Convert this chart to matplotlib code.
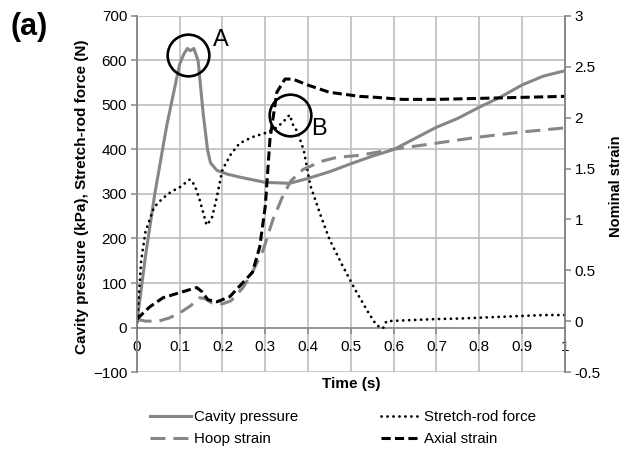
"""
Gráfica (a): presión de cavidad, fuerza de la varilla y deformaciones nominales
"""
import matplotlib
matplotlib.use('Agg')  # Backend sin GUI
import matplotlib.pyplot as plt

plt.rcParams['font.family'] = ['Liberation Sans', 'DejaVu Sans']

# Presión de cavidad (kPa) - eje izquierdo
t_presion = [0, 0.02, 0.042, 0.07, 0.10, 0.11, 0.118, 0.125, 0.133, 0.143, 0.155, 0.165, 0.172,
             0.187, 0.21, 0.24, 0.27, 0.30, 0.33, 0.357, 0.38, 0.40, 0.45, 0.50, 0.55, 0.60,
             0.65, 0.70, 0.75, 0.80, 0.85, 0.90, 0.95, 1.0]
presion = [10, 160, 301, 455, 592, 615, 627, 622, 627, 600, 480, 400, 370,
           353, 345, 338, 332, 326, 325, 324, 330, 335, 350, 368, 385, 400,
           425, 450, 470, 495, 518, 545, 565, 577]

# Fuerza de la varilla (N) - eje izquierdo
t_fuerza = [0, 0.01, 0.02, 0.04, 0.06, 0.08, 0.10, 0.124, 0.135, 0.147, 0.163, 0.175, 0.185,
            0.20, 0.22, 0.24, 0.27, 0.30, 0.32, 0.34, 0.357, 0.365, 0.375, 0.39, 0.405, 0.43,
            0.45, 0.48, 0.51, 0.54, 0.56, 0.575, 0.583, 0.60, 0.65, 0.70, 0.75, 0.80, 0.85,
            0.90, 0.95, 1.0]
fuerza = [0, 150, 215, 270, 290, 305, 315, 333, 320, 286, 230, 245, 285,
          355, 390, 414, 428, 437, 445, 460, 478, 455, 440, 398, 320, 250,
          198, 140, 85, 35, 5, -2, 14, 15, 17, 19, 20, 22, 24,
          26, 28, 28]

# Deformación circunferencial - eje derecho
t_aro = [0, 0.02, 0.05, 0.075, 0.10, 0.125, 0.147, 0.16, 0.175, 0.20, 0.22, 0.248, 0.27,
         0.295, 0.318, 0.341, 0.36, 0.388, 0.43, 0.467, 0.52, 0.60, 0.70, 0.80, 0.90, 1.0]
aro = [0.02, 0.0, 0.0, 0.03, 0.08, 0.15, 0.23, 0.22, 0.18, 0.17, 0.20, 0.33, 0.48,
       0.70, 1.00, 1.23, 1.38, 1.49, 1.57, 1.61, 1.63, 1.69, 1.75, 1.81, 1.86, 1.90]

# Deformación axial - eje derecho
t_axial = [0, 0.03, 0.061, 0.10, 0.14, 0.152, 0.166, 0.187, 0.217, 0.248, 0.27, 0.287,
           0.30, 0.311, 0.327, 0.346, 0.364, 0.40, 0.45, 0.52, 0.56, 0.62, 0.70, 0.80,
           0.90, 1.0]
axial = [0.02, 0.14, 0.23, 0.28, 0.33, 0.29, 0.21, 0.19, 0.24, 0.38, 0.48, 0.73,
         1.13, 1.79, 2.25, 2.38, 2.38, 2.32, 2.25, 2.21, 2.20, 2.18, 2.18, 2.19,
         2.20, 2.21]

# Marcas A y B (tiempo, valor eje izquierdo) y desplazamiento de la letra (pt)
marcas = ['A', 'B']
marcas_t = [0.119, 0.357]
marcas_v = [612, 477]
marcas_dx = [24, 21]
marcas_dy = [11, -10]

x_ticks = [0, 0.1, 0.2, 0.3, 0.4, 0.5, 0.6, 0.7, 0.8, 0.9, 1]
y_ticks = [-100, 0, 100, 200, 300, 400, 500, 600, 700]
y2_ticks = [-0.5, 0, 0.5, 1, 1.5, 2, 2.5, 3]

GRIS = '#868686'
GRID = '#bdbdbd'

fig = plt.figure(figsize=(6.25, 4.53), dpi=100)
ax = fig.add_axes([0.219, 0.1788, 0.6848, 0.7859])
ax2 = ax.twinx()

# Ejes
ax.set_xlim(0, 1)
ax.set_ylim(-100, 700)
ax2.set_ylim(-0.5, 3)
ax.set_xticks(x_ticks)
ax.set_xticklabels([f'{v:g}' for v in x_ticks])
ax.set_yticks(y_ticks)
ax2.set_yticks(y2_ticks)
ax2.set_yticklabels([f'{v:g}' for v in y2_ticks])

ax.spines['bottom'].set_position(('data', 0))
for a in (ax, ax2):
    a.spines['top'].set_visible(False)
    for s in ('left', 'right', 'bottom'):
        a.spines[s].set_color(GRIS)
        a.spines[s].set_linewidth(1.1)
    a.tick_params(colors=GRIS, labelcolor='black', labelsize=11, length=4, width=1.1, pad=3)
ax2.spines['bottom'].set_visible(False)
ax.tick_params(axis='x', pad=5)

# Cuadrícula
ax.grid(True, color=GRID, linewidth=1.2)
ax.set_axisbelow(True)

# Series
ax.plot(t_presion, presion, color=GRIS, linewidth=2.2, label='Cavity pressure', zorder=3)
ax2.plot(t_aro, aro, color=GRIS, linewidth=2.2, dashes=(4.9, 2.6), label='Hoop strain')
ax.plot(t_fuerza, fuerza, color='black', linewidth=2.0, dashes=(0.05, 2.1),
        dash_capstyle='round', label='Stretch-rod force', zorder=3)
ax2.plot(t_axial, axial, color='black', linewidth=2.2, dashes=(3.0, 1.4), label='Axial strain')

# Círculos A y B
for nombre, t, v, dx, dy in zip(marcas, marcas_t, marcas_v, marcas_dx, marcas_dy):
    ax.plot(t, v, marker='o', markersize=30, markerfacecolor='none',
            markeredgecolor='black', markeredgewidth=1.9, zorder=5)
    ax.annotate(nombre, (t, v), xytext=(dx, dy), textcoords='offset points',
                fontsize=17, va='center', ha='center')

# Etiquetas
fig.text(0.5616, 0.152, 'Time (s)', ha='center', va='center', fontsize=11, fontweight='bold')
fig.text(0.131, 0.565, 'Cavity pressure (kPa), Stretch-rod force (N)', rotation=90,
         ha='center', va='center', fontsize=11, fontweight='bold')
fig.text(0.985, 0.589, 'Nominal strain', rotation=90,
         ha='center', va='center', fontsize=10.5, fontweight='bold')
fig.text(0.016, 0.94, '(a)', ha='left', va='center', fontsize=22, fontweight='bold')

# Leyenda
h1, l1 = ax.get_legend_handles_labels()
h2, l2 = ax2.get_legend_handles_labels()
orden = ['Cavity pressure', 'Hoop strain', 'Stretch-rod force', 'Axial strain']
mapa = dict(zip(l1 + l2, h1 + h2))
fig.legend([mapa[k] for k in orden], orden, ncol=2, loc='center',
           bbox_to_anchor=(0.549, 0.055), frameon=False, fontsize=10.8,
           handlelength=2.7, handletextpad=0.2, columnspacing=5.5, labelspacing=0.55)

fig.savefig('out.png', dpi=100)
plt.close(fig)
